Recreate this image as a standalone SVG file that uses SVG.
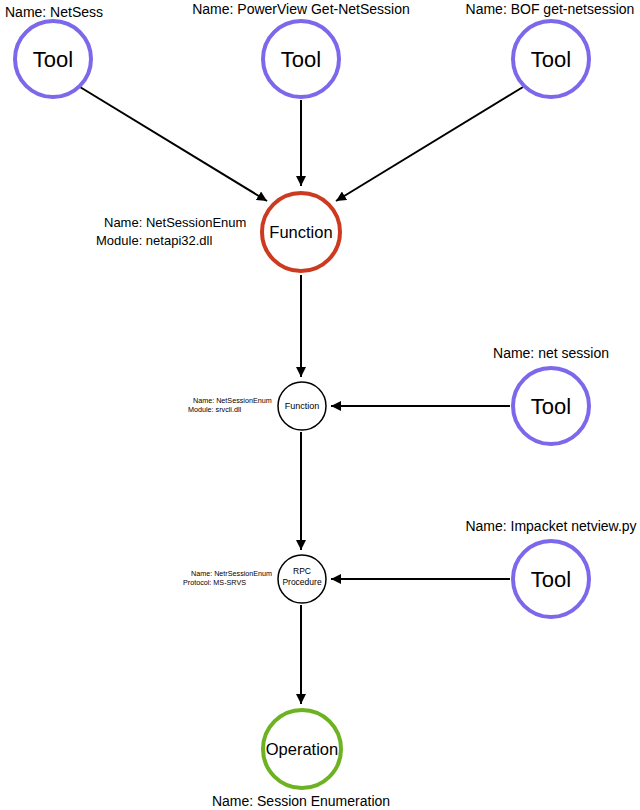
<svg xmlns="http://www.w3.org/2000/svg" width="640" height="810" viewBox="0 0 640 810">
<defs>
<marker id="ah" viewBox="0 0 10 10" refX="10" refY="5" markerWidth="10" markerHeight="10" markerUnits="userSpaceOnUse" orient="auto">
<path d="M0,0 L10,5 L0,10 z" fill="#000"/>
</marker>
<style>
text{font-family:"Liberation Sans",Arial,sans-serif;fill:#000}
.tool{fill:#fff;stroke:#7b68ea;stroke-width:4}
.func{fill:#fff;stroke:#cc3a1f;stroke-width:4}
.op{fill:#fff;stroke:#6db321;stroke-width:4}
.small{fill:#fff;stroke:#000;stroke-width:1.5}
.big{font-size:22px;text-anchor:middle}
.mid{font-size:16.5px;text-anchor:middle}
.lbl{font-size:14px}
.c{text-anchor:middle}
.tiny{font-size:7.2px}
.edge{stroke:#000;stroke-width:2;fill:none;marker-end:url(#ah)}
</style>
</defs>
<rect width="640" height="810" fill="#fff"/>
<g id="connectors">
<line class="edge" x1="80" y1="87" x2="267" y2="201"/>
<line class="edge" x1="301" y1="100" x2="301" y2="186"/>
<line class="edge" x1="523" y1="87" x2="336" y2="201"/>
<line class="edge" x1="301" y1="275" x2="301" y2="377"/>
<line class="edge" x1="510" y1="406" x2="331" y2="406"/>
<line class="edge" x1="301" y1="432" x2="301" y2="550"/>
<line class="edge" x1="510" y1="579" x2="331" y2="579"/>
<line class="edge" x1="301" y1="605" x2="301" y2="704"/>
</g>
<g id="tool-netsess">
<circle class="tool" cx="53" cy="59" r="38"/>
<text class="big" x="53" y="67">Tool</text>
<text class="lbl" x="5" y="17">Name: NetSess</text>
</g>
<g id="tool-powerview">
<circle class="tool" cx="301" cy="59" r="38"/>
<text class="big" x="301" y="67">Tool</text>
<text class="lbl c" x="301" y="14">Name: PowerView Get-NetSession</text>
</g>
<g id="tool-bof">
<circle class="tool" cx="551" cy="59" r="38"/>
<text class="big" x="551" y="67">Tool</text>
<text class="lbl c" x="550" y="14">Name: BOF get-netsession</text>
</g>
<g id="function-netapi32">
<circle class="func" cx="301" cy="232" r="39"/>
<text class="mid" x="301" y="238">Function</text>
<text style="font-size:13px" x="104" y="227">Name: NetSessionEnum</text>
<text style="font-size:13px" x="96" y="245">Module: netapi32.dll</text>
</g>
<g id="function-srvcli">
<circle class="small" cx="302" cy="406" r="24"/>
<text style="font-size:9px" class="c" x="302" y="409">Function</text>
<text class="tiny" x="193" y="403">Name: NetSessionEnum</text>
<text class="tiny" x="188" y="412">Module: srvcli.dll</text>
</g>
<g id="tool-netsession">
<circle class="tool" cx="551" cy="406" r="38"/>
<text class="big" x="551" y="414">Tool</text>
<text class="lbl c" x="551" y="358">Name: net session</text>
</g>
<g id="rpc-procedure">
<circle class="small" cx="302" cy="579" r="24"/>
<text style="font-size:8.5px" class="c" x="302" y="574">RPC</text>
<text style="font-size:8.5px" class="c" x="302" y="585">Procedure</text>
<text class="tiny" x="191" y="576">Name: NetrSessionEnum</text>
<text class="tiny" x="183" y="585">Protocol: MS-SRVS</text>
</g>
<g id="tool-impacket">
<circle class="tool" cx="551" cy="579" r="38"/>
<text class="big" x="551" y="587">Tool</text>
<text class="lbl c" x="551" y="531">Name: Impacket netview.py</text>
</g>
<g id="operation">
<circle class="op" cx="302" cy="749" r="39"/>
<text class="mid" x="302" y="755">Operation</text>
<text class="lbl c" x="301" y="806">Name: Session Enumeration</text>
</g>
</svg>
